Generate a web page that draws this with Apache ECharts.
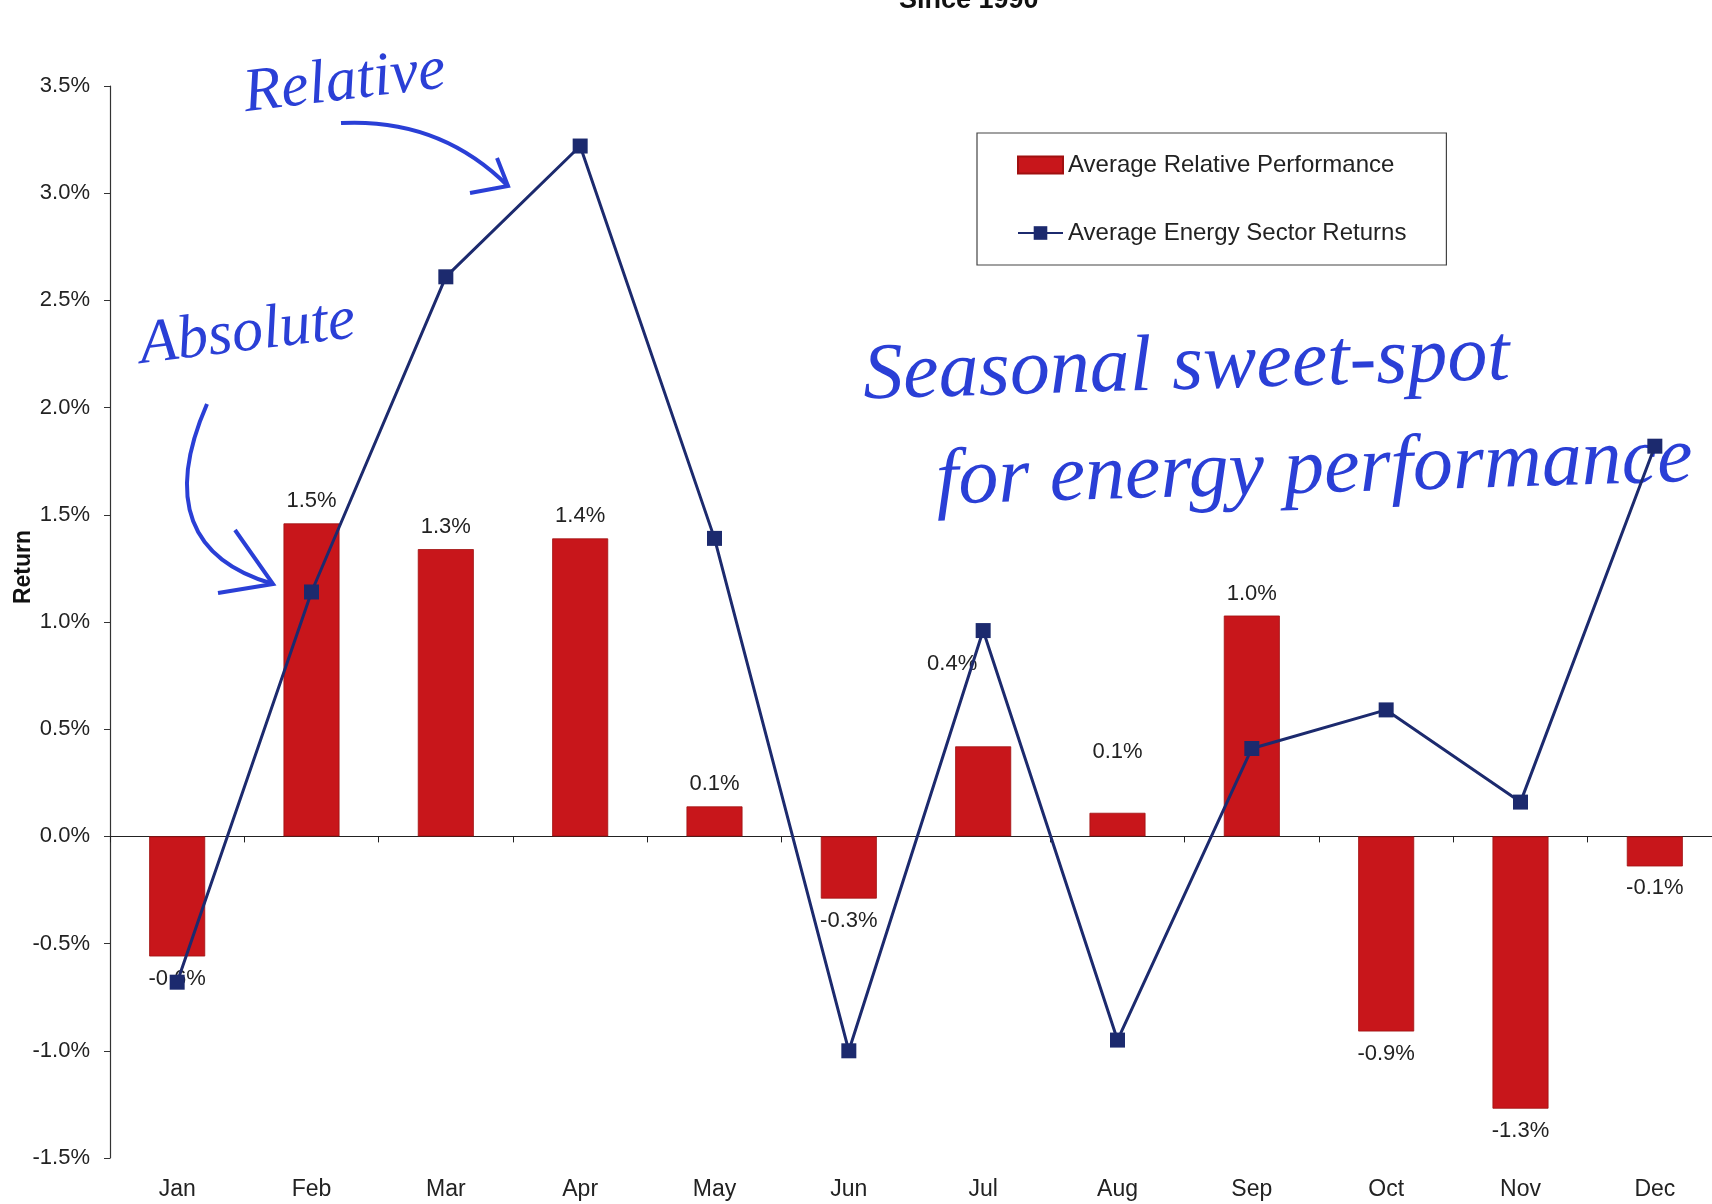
<!DOCTYPE html>
<html><head><meta charset="utf-8">
<script src="https://cdn.jsdelivr.net/npm/echarts@6/dist/echarts.min.js"></script>
<style>html,body{margin:0;padding:0;background:#fff;overflow:hidden}#c{width:1722px;height:1204px}</style>
</head><body><div id="c"></div>
<script>
var months = ['Jan','Feb','Mar','Apr','May','Jun','Jul','Aug','Sep','Oct','Nov','Dec'];
var relativePerf = [-0.56, 1.46, 1.34, 1.39, 0.14, -0.29, 0.42, 0.11, 1.03, -0.91, -1.27, -0.14];
var energyReturns = [-0.68, 1.14, 2.61, 3.22, 1.39, -1.00, 0.96, -0.95, 0.41, 0.59, 0.16, 1.82];
var yTicks = {min: -1.5, max: 3.5, step: 0.5};

var RED = '#c8161b', NAVY = '#1c2a6e', INK = '#2a3fd6';
var labelOffsets = {6: [-31, -60], 7: [0, -39]};

var barData = relativePerf.map(function (v, i) {
  var d = {value: v, label: {position: v < 0 ? 'bottom' : 'top'}};
  if (labelOffsets[i]) d.label.offset = labelOffsets[i];
  return d;
});

var chart = echarts.init(document.getElementById('c'), null, {renderer: 'canvas'});
var font = 'Liberation Sans, Arial, sans-serif';
var hand = 'Liberation Serif, serif';
chart.setOption({
  animation: false,
  backgroundColor: '#fff',
  textStyle: {fontFamily: font},
  title: {text: 'Since 1990', left: 899, top: -13, padding: 0,
    textStyle: {fontSize: 27, fontWeight: 'bold', color: '#111', fontFamily: font}},
  legend: {
    orient: 'vertical', left: 977, top: 133,
    padding: [20, 40, 20, 40], itemGap: 44,
    itemWidth: 45, itemHeight: 17,
    borderColor: '#444', borderWidth: 1.2, borderRadius: 0,
    textStyle: {fontSize: 24, color: '#222', fontFamily: font},
    data: [{name: 'Average Relative Performance', icon: 'rect'}, {name: 'Average Energy Sector Returns'}]
  },
  grid: {left: 110, top: 86, right: 0, height: 1072, containLabel: false, outerBoundsMode: 'none'},
  xAxis: [
    {type: 'category', data: months, position: 'bottom',
      axisLine: {show: false, onZero: false}, axisTick: {show: false},
      axisLabel: {fontSize: 23, color: '#222', margin: 20, fontFamily: font}},
    {type: 'category', data: months, position: 'bottom',
      axisLine: {show: true, onZero: true, lineStyle: {color: '#222', width: 1.2}},
      axisTick: {show: true, length: 6, inside: false, lineStyle: {color: '#222'}},
      axisLabel: {show: false}}
  ],
  yAxis: {
    type: 'value', min: yTicks.min, max: yTicks.max, interval: yTicks.step,
    name: 'Return', nameLocation: 'middle', nameGap: 75, nameRotate: 90, nameMoveOverlap: false,
    nameTextStyle: {fontSize: 23, fontWeight: 'bold', color: '#111', fontFamily: font, padding: [0, 0, 0, 110]},
    axisLine: {show: true, lineStyle: {color: '#333', width: 1.2}},
    axisTick: {show: true, length: 6, lineStyle: {color: '#333'}},
    splitLine: {show: false},
    axisLabel: {fontSize: 22, color: '#222', margin: 20, fontFamily: font,
      formatter: function (v) { return v.toFixed(1) + '%'; }}
  },
  series: [
    {name: 'Average Relative Performance', type: 'bar', xAxisIndex: 0,
      data: barData, barWidth: 56,
      itemStyle: {color: RED, borderColor: '#a01010', borderWidth: 0.8},
      label: {show: true, distance: 11, fontSize: 22, color: '#222', fontFamily: font,
        formatter: function (p) { return p.value.toFixed(1) + '%'; }}},
    {name: 'Average Energy Sector Returns', type: 'line', xAxisIndex: 0,
      data: energyReturns, symbol: 'rect', symbolSize: 15,
      lineStyle: {color: NAVY, width: 3}, itemStyle: {color: NAVY},
      z: 3}
  ],
  graphic: [
    {type: 'text', left: 240, top: 40, rotation: 0.12,
      style: {text: 'Relative', fill: INK, font: 'italic 62px ' + hand}},
    {type: 'bezierCurve', shape: {x1: 341, y1: 123, x2: 508, y2: 186, cpx1: 440, cpy1: 118},
      style: {stroke: INK, lineWidth: 4, fill: null}},
    {type: 'polyline', shape: {points: [[470, 193], [508, 186], [497, 158]]},
      style: {stroke: INK, lineWidth: 4, fill: null}},
    {type: 'text', left: 136, top: 290, rotation: 0.12,
      style: {text: 'Absolute', fill: INK, font: 'italic 62px ' + hand}},
    {type: 'bezierCurve', shape: {x1: 207, y1: 404, x2: 273, y2: 584, cpx1: 165, cpy1: 500, cpx2: 190, cpy2: 560},
      style: {stroke: INK, lineWidth: 4, fill: null}},
    {type: 'polyline', shape: {points: [[218, 593], [273, 584], [235, 530]]},
      style: {stroke: INK, lineWidth: 4, fill: null}},
    {type: 'text', left: 862, top: 318, rotation: 0.03,
      style: {text: 'Seasonal sweet-spot', fill: INK, font: 'italic 80px ' + hand}},
    {type: 'text', left: 935, top: 420, rotation: 0.03,
      style: {text: 'for energy performance', fill: INK, font: 'italic 80px ' + hand}}
  ]
});
</script></body></html>
